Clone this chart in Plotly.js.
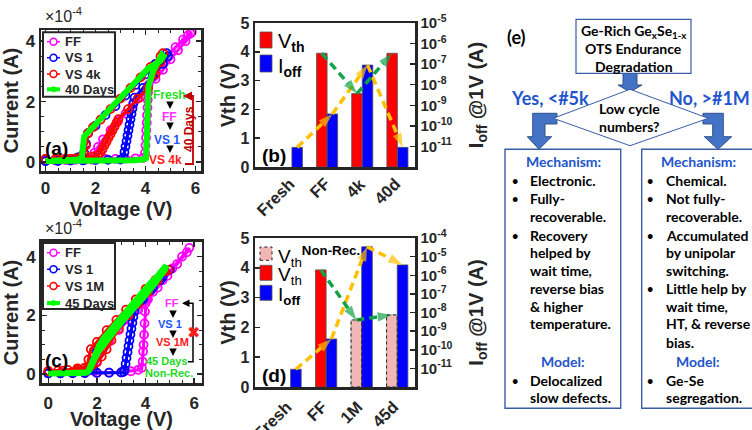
<!DOCTYPE html>
<html>
<head>
<meta charset="utf-8">
<script src="https://cdn.plot.ly/plotly-3.0.1.min.js"></script>
<style>
html,body{margin:0;padding:0;background:#ffffff;}
#chart{width:752px;height:430px;}
</style>
</head>
<body>
<div id="chart"></div>
<script>
// ================= DATA =================
// Panel (a): I-V sweeps. Voltage in V, current in units of 1e-4 A
const a_FF_V = [0,0.4,0.8,1.2,1.6,2.0,2.4,2.8,3.2,3.6,3.9,3.98,4.0,4.02,4.03,4.05,4.06,4.08,4.09,4.1,4.12,4.3,4.6,4.9,5.2,5.5,5.7,5.85,5.8,5.6,5.3,5.0,4.7,4.4,4.1,3.8,3.5,3.2,2.9,2.6,2.3,2.1,1.95,1.9,1.85,1.5,1.0,0.5,0];
const a_FF_I = [0.05,0.05,0.06,0.07,0.08,0.09,0.1,0.1,0.11,0.12,0.13,0.3,0.55,0.8,1.05,1.3,1.55,1.8,2.05,2.3,2.55,2.8,3.15,3.5,3.8,4.05,4.2,4.3,4.25,4.0,3.7,3.4,3.05,2.75,2.45,2.15,1.9,1.6,1.35,1.05,0.75,0.5,0.3,0.12,0.08,0.06,0.05,0.05,0.05];
const a_VS1_V = [0,0.5,1.0,1.5,2.0,2.5,3.0,3.12,3.16,3.2,3.24,3.28,3.32,3.36,3.4,3.44,3.48,3.52,3.56,3.9,4.3,4.7,4.9,4.85,4.4,4.0,3.6,3.2,2.8,2.4,2.0,1.7,1.62,1.55,1.45,1.3,1.0,0.5,0];
const a_VS1_I = [0.03,0.04,0.05,0.05,0.06,0.07,0.08,0.15,0.33,0.51,0.69,0.87,1.05,1.23,1.41,1.59,1.77,1.95,2.13,2.45,2.85,3.25,3.5,3.6,3.25,2.9,2.55,2.2,1.85,1.55,1.2,0.95,0.6,0.3,0.2,0.15,0.08,0.04,0.03];
const a_VS4k_V = [0,0.4,0.8,1.2,1.6,1.9,2.1,2.2,2.28,2.36,2.44,2.52,2.6,2.68,2.76,2.84,2.92,3.3,3.7,4.1,4.4,4.6,4.7,4.6,4.2,3.8,3.4,3.0,2.6,2.2,1.9,1.7,1.62,1.55,1.4,1.0,0.5,0];
const a_VS4k_I = [0.1,0.1,0.11,0.12,0.14,0.18,0.22,0.3,0.42,0.55,0.67,0.8,0.92,1.05,1.17,1.3,1.42,1.75,2.1,2.45,2.9,3.3,3.6,3.5,3.15,2.8,2.45,2.1,1.75,1.4,1.15,0.95,0.55,0.25,0.15,0.1,0.1,0.1];
const a_40d_V = [0,0.5,1.0,1.5,2.0,2.5,3.0,3.5,3.9,4.02,4.05,4.07,4.09,4.12,4.3,4.5,4.65,4.72,4.6,4.4,4.1,3.7,3.3,2.9,2.5,2.1,1.7,1.55,1.5,1.45,1.2,0.8,0.4,0];
const a_40d_I = [0.03,0.03,0.03,0.04,0.04,0.05,0.05,0.06,0.08,0.12,0.8,1.5,2.1,2.5,3.0,3.35,3.55,3.5,3.35,3.25,3.09,2.74,2.39,2.04,1.69,1.33,0.98,0.85,0.5,0.12,0.07,0.05,0.04,0.03];

// Panel (c): I-V sweeps. Voltage in V, current in units of 1e-4 A
const c_FF_V = [0,0.5,1.0,1.5,2.0,2.5,3.0,3.4,3.7,3.85,3.88,3.9,3.92,3.94,3.96,3.98,4.0,4.02,4.05,4.3,4.7,5.1,5.5,5.8,5.7,5.3,4.9,4.5,4.1,3.7,3.3,2.9,2.5,2.2,2.0,1.9,1.5,1.0,0.5,0];
const c_FF_I = [0.03,0.03,0.03,0.04,0.04,0.05,0.06,0.1,0.15,0.22,0.43,0.77,1.0,1.34,1.73,2.13,2.41,2.5,2.6,2.8,3.2,3.6,4.0,4.3,4.15,3.75,3.35,2.95,2.55,2.2,1.85,1.5,1.1,0.8,0.45,0.1,0.05,0.04,0.03,0.03];
const c_VS1_V = [0,0.5,1.0,1.5,2.0,2.5,3.0,3.1,3.14,3.18,3.22,3.26,3.3,3.34,3.38,3.42,3.46,3.5,3.55,3.9,4.3,4.7,5.0,4.6,4.2,3.8,3.4,3.0,2.6,2.2,2.0,1.9,1.85,1.6,1.0,0.5,0];
const c_VS1_I = [0.03,0.03,0.04,0.04,0.05,0.05,0.06,0.08,0.15,0.35,0.55,0.75,0.95,1.15,1.35,1.55,1.75,1.95,2.15,2.55,2.95,3.3,3.55,3.2,2.85,2.5,2.15,1.8,1.45,1.05,0.8,0.5,0.2,0.1,0.05,0.04,0.03];
const c_VS1M_V = [0,0.4,0.8,1.2,1.5,1.7,1.8,2.0,2.2,2.4,2.6,2.9,3.3,3.7,4.1,4.5,4.95,4.8,4.4,4.0,3.6,3.2,2.8,2.4,2.0,1.75,1.65,1.6,1.2,0.6,0];
const c_VS1M_I = [0.1,0.12,0.15,0.2,0.22,0.25,0.3,0.4,0.6,0.85,1.15,1.55,2.0,2.4,2.8,3.2,3.55,3.5,3.2,2.9,2.55,2.2,1.85,1.5,1.1,0.85,0.5,0.2,0.15,0.12,0.1];
const c_45d_V = [0,0.4,0.8,1.2,1.5,1.65,1.75,1.85,1.95,2.1,2.3,2.6,3.0,3.4,3.8,4.2,4.5,4.75,4.85,4.8,4.6,4.3,3.9,3.5,3.1,2.7,2.4,2.2,2.05,1.9,1.8,1.7,1.6,1.2,0.6,0];
const c_45d_I = [0.02,0.02,0.03,0.03,0.04,0.1,0.3,0.55,0.8,1.0,1.25,1.55,1.95,2.35,2.75,3.1,3.35,3.6,3.7,3.55,3.3,3.0,2.6,2.25,1.85,1.45,1.15,0.95,0.75,0.5,0.3,0.15,0.06,0.04,0.03,0.02];

const names_a = ['FF','VS 1','VS 4k','40 Days'];
const names_c = ['FF','VS 1','VS 1M','45 Days'];

// Panel (b): Vth (V) and Ioff @1V (A)
const cats_b = ['Fresh','FF','4k','40d'];
const vth_b  = [null, 3.95, 2.55, 3.95];
const ioff_b = [9e-12, 3.8e-10, 9e-8, 9e-12];

// Panel (d): Vth (V), non-recoverable Vth (V), Ioff @1V (A)
const cats_d   = ['Fresh','FF','1M','45d'];
const vth_d    = [null, 3.93, null, null];
const vthNR_d  = [null, null, 2.25, 2.42];
const ioff_d   = [9e-12, 3.8e-10, 3.4e-5, 3.6e-6];

// Tick labels
const vthTicks = [0,1,2,3,4,5];
const exp_b = [-11,-10,-9,-8,-7,-6,-5];
const exp_d = [-11,-10,-9,-8,-7,-6,-5,-4];

// Flowchart (e) text
const topLines   = ['Ge-Rich Ge<sub>x</sub>Se<sub>1-x</sub>', 'OTS Endurance', 'Degradation'];
const diamondLines = ['Low cycle', 'numbers?'];
const leftLines  = [['h','Mechanism:'],['b','Electronic.'],['b','Fully-'],['t','recoverable.'],['b','Recovery'],['t','helped by'],['t','wait time,'],['t','reverse bias'],['t','&amp; higher'],['t','temperature.'],['h','Model:'],['b','Delocalized'],['t','slow defects.']];
const rightLines = [['h','Mechanism:'],['b','Chemical.'],['b','Not fully-'],['t','recoverable.'],['b','Accumulated'],['t','by unipolar'],['t','switching.'],['b','Little help by'],['t','wait time,'],['t','HT, &amp; reverse'],['t','bias.'],['h','Model:'],['b','Ge-Se'],['t','segregation.']];

// ================= STYLE / LAYOUT =================
const W = 752, H = 430;
const X = p => p / W, Y = p => 1 - p / H;
const FONT = 'Liberation Sans, Arial, Helvetica, sans-serif';
const FLOW = 'Lato, Carlito, sans-serif';
const INK = '#262626';
const C = {ff:'#ff00ff', vs1:'#0000ff', vsx:'#ff0000', days:'#00ff00', gdash:'#12a24a', ydash:'#ffc000', pink:'#f2b6b6', flowBlue:'#2255cc', arrowFill:'#4472c4', arrowLine:'#2f528f', boxLine:'#3a5da8'};

function ivTrace(V, I, color, xa, ya, name, thick) {
  if (thick) return {type:'scatter', mode:'lines', x:V, y:I, xaxis:xa, yaxis:ya, name, line:{color, width:6}, hoverinfo:'skip'};
  return {type:'scatter', mode:'lines+markers', x:V, y:I, xaxis:xa, yaxis:ya, name,
          line:{color, width:3}, marker:{symbol:'circle-open', size:8, color, line:{width:1.8}}, hoverinfo:'skip'};
}
function pathTrace(x, y, color, xa, ya) {
  return {type:'scatter', mode:'lines+markers', x, y, xaxis:xa, yaxis:ya, cliponaxis:false, hoverinfo:'skip',
    line:{color, width:3.5, dash:'8px,5px'},
    marker:{symbol:x.map((_,i)=> i===0 ? 'circle' : 'arrow'), size:x.map((_,i)=> i===0 ? 10 : 15), color, angleref:'previous', line:{width:0}}};
}

const traces = [];
// (a)
traces.push(ivTrace(a_FF_V, a_FF_I, C.ff, 'x', 'y', names_a[0]));
traces.push(ivTrace(a_VS1_V, a_VS1_I, C.vs1, 'x', 'y', names_a[1]));
traces.push(ivTrace(a_VS4k_V, a_VS4k_I, C.vsx, 'x', 'y', names_a[2]));
traces.push(ivTrace(a_40d_V, a_40d_I, C.days, 'x', 'y', names_a[3], true));
// (c)
traces.push(ivTrace(c_FF_V, c_FF_I, C.ff, 'x3', 'y5', names_c[0]));
traces.push(ivTrace(c_VS1_V, c_VS1_I, C.vs1, 'x3', 'y5', names_c[1]));
traces.push(ivTrace(c_VS1M_V, c_VS1M_I, C.vsx, 'x3', 'y5', names_c[2]));
traces.push(ivTrace(c_45d_V, c_45d_I, C.days, 'x3', 'y5', names_c[3], true));

// (b)
const idx_b = cats_b.map((_, i) => i);
traces.push({type:'bar', x:idx_b, y:vth_b, xaxis:'x2', yaxis:'y2', width:0.3, offset:-0.3, name:'Vth',
  marker:{color:C.vsx, line:{color:'#555', width:0.8}}, hoverinfo:'skip'});
traces.push({type:'bar', x:idx_b, y:ioff_b, xaxis:'x2', yaxis:'y3', width:0.3, offset:0, name:'Ioff',
  marker:{color:C.vs1, line:{color:'#555', width:0.8}}, hoverinfo:'skip'});
traces.push(pathTrace(idx_b.map(i => i + 0.15), ioff_b, C.ydash, 'x2', 'y3'));
const gb = idx_b.filter(i => vth_b[i] != null);
traces.push(pathTrace(gb.map(i => i - 0.15), gb.map(i => vth_b[i]), C.gdash, 'x2', 'y4'));

// (d)
const idx_d = cats_d.map((_, i) => i);
traces.push({type:'bar', x:idx_d, y:vth_d, xaxis:'x4', yaxis:'y6', width:0.3, offset:-0.3, name:'Vth',
  marker:{color:C.vsx, line:{color:'#555', width:0.8}}, hoverinfo:'skip'});
traces.push({type:'bar', x:idx_d, y:vthNR_d, xaxis:'x4', yaxis:'y6', width:0.3, offset:-0.3, name:'Vth Non-Rec.',
  marker:{color:C.pink, line:{color:'#888', width:0.5}}, hoverinfo:'skip'});
traces.push({type:'bar', x:idx_d, y:ioff_d, xaxis:'x4', yaxis:'y7', width:0.3, offset:0, name:'Ioff',
  marker:{color:C.vs1, line:{color:'#555', width:0.8}}, hoverinfo:'skip'});
traces.push(pathTrace(idx_d.map(i => i + 0.15), ioff_d, C.ydash, 'x4', 'y7'));
const gd = idx_d.filter(i => vth_d[i] != null || vthNR_d[i] != null);
traces.push(pathTrace(gd.map(i => i - 0.15), gd.map(i => vth_d[i] != null ? vth_d[i] : vthNR_d[i]), C.gdash, 'x4', 'y8'));

// ---------- axes ----------
const tickF = (s) => ({family:FONT, size:s, color:INK, weight:'bold'});
const titleF = {family:FONT, size:20, color:INK, weight:'bold'};
function ax(extra) {
  return Object.assign({showline:true, linecolor:INK, linewidth:2.5, mirror:'allticks', ticks:'inside', ticklen:5,
    tickwidth:1.5, tickcolor:INK, showgrid:false, zeroline:false, fixedrange:true, tickfont:tickF(17)}, extra);
}
const minorX = {ticks:'inside', dtick:0.5, ticklen:3, tickcolor:INK, tickwidth:1};
const minorY = {ticks:'inside', dtick:0.5, ticklen:3, tickcolor:INK, tickwidth:1};

const layout = {
  width:W, height:H, margin:{l:0, r:0, t:0, b:0}, paper_bgcolor:'#fff', plot_bgcolor:'rgba(0,0,0,0)',
  showlegend:false, barmode:'overlay', font:{family:FONT, color:INK},
  // (a)
  xaxis: ax({domain:[X(41), X(201)], anchor:'y', range:[-0.18, 6.22], dtick:2, tick0:0, minor:minorX,
    title:{text:'Voltage (V)', font:titleF, standoff:0}}),
  yaxis: ax({domain:[Y(171), Y(30)], anchor:'x', range:[-0.3, 4.37], dtick:2, tick0:0, minor:minorY,
    title:{text:'Current (A)', font:titleF, standoff:3}}),
  // (b)
  xaxis2: ax({domain:[X(255), X(415)], anchor:'y2', range:[-1.05, 3.5], tickmode:'array', tickvals:idx_b,
    showticklabels:false, ticks:'', mirror:true}),
  yaxis2: ax({domain:[Y(167), Y(23)], anchor:'x2', range:[0, 5], tickmode:'array', tickvals:vthTicks, mirror:false, tickfont:tickF(16),
    title:{text:'Vth (V)', font:titleF, standoff:0}}),
  yaxis3: ax({overlaying:'y2', anchor:'x2', side:'right', type:'log', range:[-12, -5], tickmode:'array',
    tickvals:exp_b.map(e => Math.pow(10, e)), ticktext:exp_b.map(e => '10<sup>' + e + '</sup>'), mirror:false, tickfont:tickF(15),
    title:{text:'I<sub>off</sub> @1V (A)', font:titleF, standoff:18}}),
  yaxis4: {overlaying:'y2', anchor:'x2', range:[0, 5], visible:false, fixedrange:true},
  // (c) — x title is placed as an annotation below, because the paper edge clamps an axis title here
  xaxis3: ax({domain:[X(41.7), X(201.7)], anchor:'y5', range:[-0.27, 6.31], dtick:2, tick0:0, minor:minorX, ticklabelstandoff:3}),
  yaxis5: ax({domain:[Y(383.3), Y(241.7)], anchor:'x3', range:[-0.31, 4.51], dtick:2, tick0:0, minor:minorY,
    title:{text:'Current (A)', font:titleF, standoff:3}}),
  // (d)
  xaxis4: ax({domain:[X(255), X(415)], anchor:'y6', range:[-1.0, 3.5], tickmode:'array', tickvals:idx_d,
    showticklabels:false, ticks:'', mirror:true}),
  yaxis6: ax({domain:[Y(387), Y(238)], anchor:'x4', range:[0, 5], tickmode:'array', tickvals:vthTicks, mirror:false, tickfont:tickF(16),
    title:{text:'Vth (V)', font:titleF, standoff:0}}),
  yaxis7: ax({overlaying:'y6', anchor:'x4', side:'right', type:'log', range:[-12, -4], tickmode:'array',
    tickvals:exp_d.map(e => Math.pow(10, e)), ticktext:exp_d.map(e => '10<sup>' + e + '</sup>'), mirror:false, tickfont:tickF(15),
    title:{text:'I<sub>off</sub> @1V (A)', font:titleF, standoff:18}}),
  yaxis8: {overlaying:'y6', anchor:'x4', range:[0, 5], visible:false, fixedrange:true},
  shapes:[], annotations:[]
};

const S = layout.shapes, A = layout.annotations;
function ann(xp, yp, text, font, extra) {
  return Object.assign({xref:'paper', yref:'paper', x:X(xp), y:Y(yp), text, showarrow:false, font,
    xanchor:'center', yanchor:'middle'}, extra || {});
}
function rect(x0, y0, x1, y1, line, fill, extra) {
  return Object.assign({type:'rect', xref:'paper', yref:'paper', x0:X(x0), x1:X(x1), y0:Y(y1), y1:Y(y0), line, fillcolor:fill || 'rgba(0,0,0,0)'}, extra || {});
}
function poly(pts, line, fill) {
  const d = pts.map((p, i) => (i ? 'L' : 'M') + X(p[0]).toFixed(5) + ',' + Y(p[1]).toFixed(5)).join(' ') + (fill ? ' Z' : '');
  return {type:'path', xref:'paper', yref:'paper', path:d, line, fillcolor:fill || 'rgba(0,0,0,0)'};
}
function arrowAnn(xp, yp, axp, ayp, color, w) {
  return {xref:'paper', yref:'paper', x:X(xp), y:Y(yp), ax:axp, ay:ayp, text:'', showarrow:true,
    arrowhead:2, arrowsize:1, arrowwidth:w, arrowcolor:color};
}

// (c) x-axis title
A.push({xref:'x3 domain', yref:'paper', x:0.5, y:Y(419), text:'Voltage (V)', showarrow:false, font:titleF, xanchor:'center', yanchor:'middle'});

// Category labels for the bar panels, rotated, placed at each category on the axis scale
const catF = {family:FONT, size:16.5, color:INK, weight:'bold'};
idx_b.forEach(i => A.push({xref:'x2', yref:'paper', x:i + 0.25, y:Y(172), text:cats_b[i], showarrow:false,
  textangle:-45, xanchor:'right', yanchor:'top', font:catF}));
idx_d.forEach(i => A.push({xref:'x4', yref:'paper', x:i + 0.2, y:Y(395), text:cats_d[i], showarrow:false,
  textangle:-45, xanchor:'right', yanchor:'top', font:catF}));

// Dotted outline on non-recoverable bars (d)
idx_d.forEach(i => { if (vthNR_d[i] != null) S.push({type:'rect', xref:'x4', yref:'y6', x0:i - 0.3, x1:i, y0:0, y1:vthNR_d[i],
  line:{color:'#222', width:1, dash:'dot'}, fillcolor:'rgba(0,0,0,0)'}); });

// ----- manual legends (a) & (c)
const legColors = [C.ff, C.vs1, C.vsx, C.days];
function ivLegend(box, ys, names) {
  S.push(rect(box[0], box[1], box[2], box[3], {color:INK, width:2}, '#ffffff'));
  ys.forEach((yy, k) => {
    const col = legColors[k];
    if (k === 3) {
      S.push(poly([[47, yy], [60, yy]], {color:col, width:4}));
      S.push({type:'circle', xref:'paper', yref:'paper', x0:X(51), x1:X(56), y0:Y(yy + 2.5), y1:Y(yy - 2.5), line:{color:col, width:1}, fillcolor:col});
    } else {
      S.push(poly([[47, yy], [60, yy]], {color:col, width:1.5}));
      S.push({type:'circle', xref:'paper', yref:'paper', x0:X(50), x1:X(57), y0:Y(yy + 3.5), y1:Y(yy - 3.5), line:{color:col, width:1.5}, fillcolor:'#ffffff'});
    }
    A.push(ann(63, yy, names[k], {family:FONT, size:13, color:INK, weight:'bold'}, {xanchor:'left'}));
  });
}
ivLegend([43, 32.3, 115, 96.7], [41.7, 57.7, 74, 89.3], names_a);
ivLegend([43, 243, 115, 309], [252.7, 269.3, 286, 303], names_c);

// ----- bar legends (b) & (d)
S.push(rect(260, 32, 272, 48, {color:'#555', width:0.8}, C.vsx));
S.push(rect(260, 55, 272, 72, {color:'#555', width:0.8}, C.vs1));
A.push(ann(276, 43, 'V<sub><b>th</b></sub>', {family:FONT, size:20, color:'#000'}, {xanchor:'left'}));
A.push(ann(276, 67, 'I<sub><b>off</b></sub>', {family:FONT, size:20, color:'#000'}, {xanchor:'left'}));

S.push(rect(260, 247, 272, 260.3, {color:'#222', width:1, dash:'dot'}, C.pink));
S.push(rect(260, 265.3, 272, 280.3, {color:'#555', width:0.8}, C.vsx));
S.push(rect(260, 285.3, 272, 300.3, {color:'#555', width:0.8}, C.vs1));
A.push(ann(276, 256, 'V<sub>th</sub><sup><b>Non-Rec.</b></sup>', {family:FONT, size:19, color:'#000'}, {xanchor:'left'}));
A.push(ann(276, 276, 'V<sub>th</sub>', {family:FONT, size:19, color:'#000'}, {xanchor:'left'}));
A.push(ann(276, 296, 'I<sub><b>off</b></sub>', {family:FONT, size:19, color:'#000'}, {xanchor:'left'}));

// ----- panel labels and multipliers
const lblF = {family:FONT, size:19, color:'#000', weight:'bold'};
A.push(ann(43, 148, '(a)', lblF, {xanchor:'left'}));
A.push(ann(260, 155, '(b)', lblF, {xanchor:'left'}));
A.push(ann(43, 360, '(c)', lblF, {xanchor:'left'}));
A.push(ann(260, 375, '(d)', lblF, {xanchor:'left'}));
A.push(ann(43, 15, '×10<sup>-4</sup>', {family:FONT, size:16, color:INK}, {xanchor:'left'}));
A.push(ann(43, 227, '×10<sup>-4</sup>', {family:FONT, size:16, color:INK}, {xanchor:'left'}));

// ----- in-plot annotations (a)
const f12 = c => ({family:FONT, size:12, color:c, weight:'bold'});
A.push(ann(169, 95, 'Fresh', f12('#22e022')));
A.push(ann(169, 117, 'FF', f12('#ff33ff')));
A.push(ann(167, 140, 'VS 1', f12('#2255ff')));
A.push(ann(165, 160, 'VS 4k', f12('#ff1a1a')));
[109, 130, 153].forEach(t => A.push(arrowAnn(170, t, 0, -7, '#000', 1.5)));
S.push(poly([[185, 164], [193, 164], [193, 96], [188, 96]], {color:'#c00000', width:1.8}));
A.push(arrowAnn(183, 96, 8, 0, '#c00000', 1.8));
A.push(ann(189, 129, '40 Days', f12('#c00000'), {textangle:-90}));

// ----- in-plot annotations (c)
const f11 = c => ({family:FONT, size:11, color:c, weight:'bold'});
A.push(ann(172, 303.3, 'FF', f11('#ff33ff')));
A.push(ann(170, 324.3, 'VS 1', f11('#2255ff')));
A.push(ann(172, 342.3, 'VS 1M', f11('#ff1a1a')));
A.push(ann(167, 361, '45 Days', f11('#22d822')));
A.push(ann(169, 372.5, 'Non-Rec.', f11('#22d822')));
[318, 338, 356].forEach(t => A.push(arrowAnn(173, t, 0, -7, '#000', 1.5)));
S.push(poly([[188, 361.7], [193, 361.7], [193, 303.3], [188, 303.3]], {color:'#000', width:1.5}));
A.push(arrowAnn(182, 303.3, 8, 0, '#000', 1.5));
A.push(ann(193.5, 332, '✖', {family:'DejaVu Sans, sans-serif', size:16, color:'#ff1a1a'}));

// ----- flowchart (e)
const flowF = {family:FLOW, size:14, color:'#000', weight:'bold'};
const bulF = {family:FLOW, size:11, color:'#000', weight:'bold'};
const headF = {family:FLOW, size:14, color:C.flowBlue, weight:'bold'};
const arrLine = {color:C.arrowLine, width:1};
S.push(poly([[623, 73.5], [637, 73.5], [637, 85], [642, 85], [630, 92], [618, 85], [623, 85]], arrLine, C.arrowFill));
S.push(poly([[557, 113.3], [532.7, 113.3], [532.7, 136.7], [527.3, 136.7], [539, 149.3], [551.7, 136.7], [545, 136.7], [545, 124], [557, 124]], arrLine, C.arrowFill));
S.push(poly([[703, 113.3], [723.3, 113.3], [723.3, 136.7], [731.7, 136.7], [718, 149.3], [704.3, 136.7], [712.7, 136.7], [712.7, 124], [703, 124]], arrLine, C.arrowFill));
S.push(poly([[553.3, 118.3], [630, 89.3], [708.3, 118.3], [630, 145.7]], {color:C.boxLine, width:1}, '#ffffff'));
S.push(rect(576, 19.3, 691, 73.3, {color:C.boxLine, width:1.2}, '#ffffff'));
S.push(rect(505, 149.3, 620.7, 408.3, {color:C.boxLine, width:1.4}, '#ffffff'));
S.push(rect(641.7, 149.3, 756, 408.3, {color:C.boxLine, width:1.4}, '#ffffff'));

A.push(ann(516, 37, '(e)', {family:FLOW, size:18, color:'#000', weight:'bold'}));
[31.7, 48.3, 66].forEach((yy, k) => A.push(ann(633.5, yy, topLines[k], flowF)));
[108.3, 126.7].forEach((yy, k) => A.push(ann(629, yy, diamondLines[k], flowF)));
A.push(ann(550, 98.3, 'Yes, &lt;#5k', {family:FLOW, size:18, color:C.flowBlue, weight:'bold'}));
A.push(ann(709, 98.3, 'No, &gt;#1M', {family:FLOW, size:18, color:C.flowBlue, weight:'bold'}));

const leftY  = [161.7, 180.7, 198.3, 216.5, 235, 252.7, 270, 288.3, 306.7, 323.3, 361.7, 380, 397.3];
const rightY = [161.7, 180.7, 198.3, 216.5, 235, 252.7, 270, 288.3, 306.7, 323.3, 342.3, 361.7, 380, 397.3];
function boxText(lines, ys, cx, bx, tx) {
  lines.forEach((ln, k) => {
    const [kind, t] = ln;
    if (kind === 'h') { A.push(ann(cx, ys[k], t, headF)); return; }
    if (kind === 'b') A.push(ann(bx, ys[k], '•', bulF));
    A.push(ann(tx, ys[k], t, flowF, {xanchor:'left'}));
  });
}
boxText(leftLines, leftY, 563, 515, 528);
boxText(rightLines, rightY, 698, 650, 664);

Plotly.newPlot('chart', traces, layout, {displayModeBar:false, staticPlot:true});
</script>
</body>
</html>
